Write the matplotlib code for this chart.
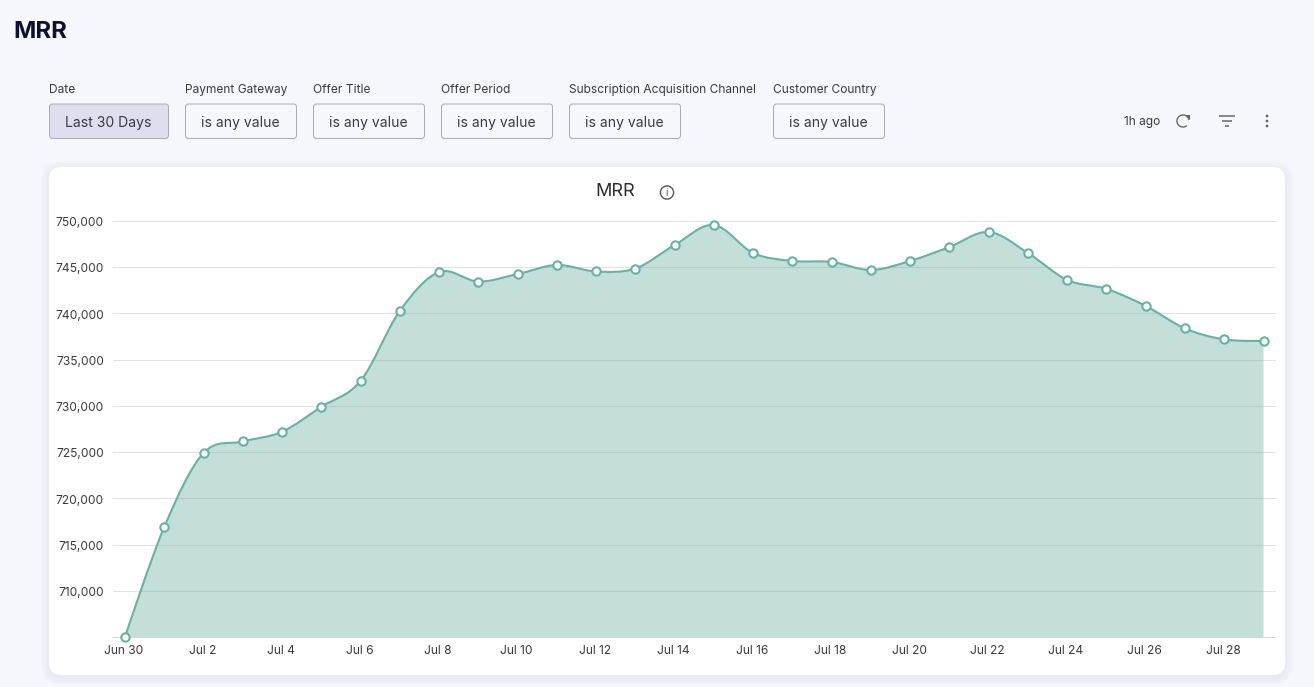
import numpy as np
import matplotlib
matplotlib.use('Agg')
import matplotlib.pyplot as plt
from matplotlib.patches import FancyBboxPatch, Circle, Arc, Polygon
from matplotlib.path import Path
from matplotlib.patches import PathPatch
from matplotlib.transforms import ScaledTranslation

plt.rcParams['font.family'] = ['Inter', 'DejaVu Sans']

# data
days = np.arange(30)
mrr = [705000, 716900, 724900, 726150, 727200, 729900, 732700, 740270, 744480, 743450,
       744260, 745240, 744540, 744860, 747400, 749570, 746540, 745680, 745570, 744700,
       745680, 747190, 748810, 746540, 743620, 742650, 740810, 738380, 737190, 737030]
tick_days = np.arange(0, 30, 2)
tick_labels = ['Jun 30', 'Jul 2', 'Jul 4', 'Jul 6', 'Jul 8', 'Jul 10', 'Jul 12', 'Jul 14',
               'Jul 16', 'Jul 18', 'Jul 20', 'Jul 22', 'Jul 24', 'Jul 26', 'Jul 28']
y_ticks = [710000, 715000, 720000, 725000, 730000, 735000, 740000, 745000, 750000]

filter_names = ['Date', 'Payment Gateway', 'Offer Title', 'Offer Period',
                'Subscription Acquisition Channel', 'Customer Country']
filter_values = ['Last 30 Days', 'is any value', 'is any value', 'is any value',
                 'is any value', 'is any value']

W, H = 1314, 687
LINE = '#66b2a3'
TXT = '#3a3a3f'


def spline_path(x, y, smoothing=2.0):
    # same kind of bezier spline the dashboard draws
    x = np.asarray(x, float)
    y = np.asarray(y, float)
    d = smoothing + 1
    verts = [(x[0], y[0])]
    codes = [Path.MOVETO]
    right = (x[0], y[0])
    for i in range(1, len(x)):
        if i < len(x) - 1:
            lx = (smoothing * x[i] + x[i - 1]) / d
            ly = (smoothing * y[i] + y[i - 1]) / d
            rx = (smoothing * x[i] + x[i + 1]) / d
            ry = (smoothing * y[i] + y[i + 1]) / d
            c = (ry - ly) * (rx - x[i]) / (rx - lx) + y[i] - ry
            ly += c
            ry += c
            left = (lx, ly)
            next_right = (rx, ry)
        else:
            left = (x[i], y[i])
            next_right = None
        verts += [right, left, (x[i], y[i])]
        codes += [Path.CURVE4] * 3
        right = next_right
    return verts, codes


fig = plt.figure(figsize=(W / 100, H / 100), dpi=100, facecolor='#f6f7fc')

# page layer in pixel coordinates
bg = fig.add_axes([0, 0, 1, 1])
bg.set_xlim(0, W)
bg.set_ylim(H, 0)
bg.axis('off')

bg.text(13.5, 32, 'MRR', fontsize=17.2, fontweight='bold', color='#0f1033', va='center')

# filters
label_x = [49, 185, 313, 441, 569, 773]
box_w = [120, 112, 112, 112, 112, 112]
for i in range(6):
    bg.text(label_x[i], 90, filter_names[i], fontsize=8.6, color=TXT, va='center')
    box = FancyBboxPatch((label_x[i] + 0.5, 104), box_w[i] - 1, 34.5,
                         boxstyle='round,pad=0,rounding_size=3',
                         fc='#dedeee' if i == 0 else '#f6f7fc', ec='#a9a9b2', lw=0.7)
    bg.add_patch(box)
    bg.text(label_x[i] + box_w[i] / 2 - 0.5, 123, filter_values[i], fontsize=10.05, color=TXT,
            ha='center', va='center')

# top right bits
bg.text(1142, 122.5, '1h ago', fontsize=8.6, color=TXT, ha='center', va='center')
bg.add_patch(Arc((1183, 121), 12, 12, theta1=-310, theta2=-10, color='#66666c', lw=1.0))
bg.add_patch(Polygon([[1185, 115], [1189.5, 115], [1189.5, 119.5]], fc='#66666c', ec='none'))
for yy, half in [(116, 8), (121, 5), (126, 2)]:
    bg.plot([1227 - half, 1227 + half], [yy, yy], color='#66666c', lw=1.1, solid_capstyle='butt')
for yy in [116, 121, 126]:
    bg.add_patch(Circle((1267, yy), 1.4, fc='#66666c', ec='none'))

# card with a soft shadow
for grow, alpha in [(8, 0.010), (6, 0.012), (4, 0.014), (2, 0.018)]:
    bg.add_patch(FancyBboxPatch((49 - grow, 167 - grow + 2), 1236 + 2 * grow, 508 + 2 * grow,
                                boxstyle='round,pad=0,rounding_size=%g' % (12 + grow),
                                fc='#30305a', ec='none', alpha=alpha))
bg.add_patch(FancyBboxPatch((49, 167), 1236, 508, boxstyle='round,pad=0,rounding_size=12',
                            fc='white', ec='none'))
bg.text(615.5, 192, 'MRR', fontsize=13, color='#2b2b30', ha='center', va='center')
bg.add_patch(Circle((667, 192.5), 6.6, fc='none', ec='#55555a', lw=1.0))
bg.text(667, 192.8, 'i', fontsize=7.5, color='#55555a', ha='center', va='center')

# chart
x0, x1, ytop, ybot = 113, 1275, 221, 637
ax = fig.add_axes([x0 / W, 1 - ybot / H, (x1 - x0) / W, (ybot - ytop) / H])
ax.patch.set_alpha(0)
step = (1263.5 - 125) / 29
ax.set_xlim((x0 - 125) / step, (x1 - 125) / step)
ax.set_ylim(705000, 750000)

for v in y_ticks:
    ax.axhline(v, color='#e2e2e4', lw=0.75, zorder=1, clip_on=False)
ax.axhline(705000, color='#d5d5de', lw=0.75, zorder=1, clip_on=False)

verts, codes = spline_path(days, mrr)
area = verts + [(days[-1], 705000), (days[0], 705000), (days[0], mrr[0])]
area_codes = codes + [Path.LINETO, Path.LINETO, Path.CLOSEPOLY]
ax.add_patch(PathPatch(Path(area, area_codes), fc='#64ab9e', ec='none', alpha=0.38, zorder=2))
ax.add_patch(PathPatch(Path(verts, codes), fc='none', ec=LINE, lw=1.5, zorder=3, clip_on=False))
ax.plot(days, mrr, ls='none', marker='o', ms=6, mfc='white', mec=LINE, mew=1.5,
        zorder=4, clip_on=False)

for s in ax.spines.values():
    s.set_visible(False)
ax.set_yticks(y_ticks)
ax.set_yticklabels(['{:,}'.format(v) for v in y_ticks])
ax.set_xticks(tick_days)
ax.set_xticklabels(tick_labels)
ax.tick_params(axis='both', length=0, labelsize=8.6, labelcolor=TXT)
ax.tick_params(axis='y', pad=6.5)
ax.tick_params(axis='x', pad=5.5)
# tick labels sit a pixel off from the default spot
nudge_y = ScaledTranslation(0, -0.5 / 72, fig.dpi_scale_trans)
nudge_x = ScaledTranslation(-0.8 / 72, 0, fig.dpi_scale_trans)
for t in ax.get_yticklabels():
    t.set_transform(t.get_transform() + nudge_y)
for t in ax.get_xticklabels():
    t.set_transform(t.get_transform() + nudge_x)

fig.savefig('out.png', dpi=100, facecolor=fig.get_facecolor())
